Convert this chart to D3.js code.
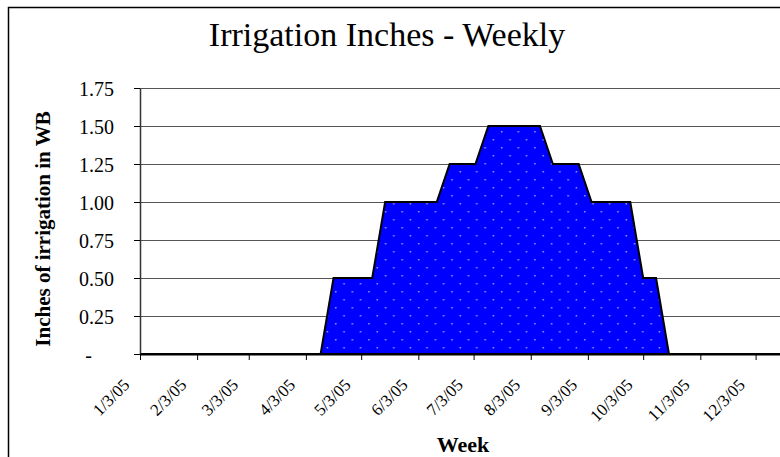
<!DOCTYPE html>
<html>
<head>
<meta charset="utf-8">
<script src="https://cdn.jsdelivr.net/npm/d3@7"></script>
<style>
  body { margin: 0; background: #fff; }
  svg { display: block; font-family: "Liberation Serif", "Times New Roman", serif; }
</style>
</head>
<body>
<div id="chart"></div>
<script>
// weekly dates (Monday of each week)
var weeks = ["1/3/05","1/10/05","1/17/05","1/24/05","1/31/05",
    "2/7/05","2/14/05","2/21/05","2/28/05",
    "3/7/05","3/14/05","3/21/05","3/28/05",
    "4/4/05","4/11/05","4/18/05","4/25/05",
    "5/2/05","5/9/05","5/16/05","5/23/05","5/30/05",
    "6/6/05","6/13/05","6/20/05","6/27/05",
    "7/4/05","7/11/05","7/18/05","7/25/05",
    "8/1/05","8/8/05","8/15/05","8/22/05","8/29/05",
    "9/5/05","9/12/05","9/19/05","9/26/05",
    "10/3/05","10/10/05","10/17/05","10/24/05","10/31/05",
    "11/7/05","11/14/05","11/21/05","11/28/05",
    "12/5/05","12/12/05","12/19/05","12/26/05"];

// inches of irrigation per week
var inches = [0,0,0,0,0,
    0,0,0,0,
    0,0,0,0,
    0,0,0.5,0.5,
    0.5,0.5,1.0,1.0,1.0,
    1.0,1.0,1.25,1.25,
    1.25,1.5,1.5,1.5,
    1.5,1.5,1.25,1.25,1.25,
    1.0,1.0,1.0,1.0,
    0.5,0.5,0,0,0,
    0,0,0,0,
    0,0,0,0];

var monthTicks = ["1/3/05","2/3/05","3/3/05","4/3/05","5/3/05","6/3/05",
    "7/3/05","8/3/05","9/3/05","10/3/05","11/3/05","12/3/05"];
var yTicks = [0, 0.25, 0.5, 0.75, 1.0, 1.25, 1.5, 1.75];

function drawChart(){
    var parse = d3.utcParse("%m/%d/%y");
    var data = weeks.map(function(w, i){ return {date: parse(w), value: inches[i]}; });

    var width = 780, height = 457;
    var plotLeft = 140, plotRight = 798, plotTop = 88, plotBottom = 354;

    var svg = d3.select("#chart").append("svg")
        .attr("width", width)
        .attr("height", height);

    var defs = svg.append("defs");
    var pat = defs.append("pattern")
        .attr("id", "dots")
        .attr("patternUnits", "userSpaceOnUse")
        .attr("width", 16.6)
        .attr("height", 16);
    pat.append("rect").attr("width", 16.6).attr("height", 16).attr("fill", "#0000ff");
    pat.append("rect").attr("x", 3).attr("y", 3).attr("width", 1.5).attr("height", 1.5).attr("fill", "#9a9aff");
    pat.append("rect").attr("x", 11.3).attr("y", 11).attr("width", 1.5).attr("height", 1.5).attr("fill", "#9a9aff");

    // chart border
    svg.append("rect")
        .attr("x", 8.5).attr("y", 7.5)
        .attr("width", 900).attr("height", 600)
        .attr("fill", "none")
        .attr("stroke", "#000")
        .attr("stroke-width", 1.5);

    var xScale = d3.scaleUtc()
        .domain([parse(weeks[0]), parse(weeks[weeks.length - 1])])
        .range([plotLeft, plotRight]);
    var yScale = d3.scaleLinear()
        .domain([0, 1.75])
        .range([plotBottom, plotTop]);

    // gridlines
    svg.append("g").selectAll("line")
        .data(yTicks.filter(function(d){ return d > 0; }))
        .enter().append("line")
        .attr("x1", plotLeft).attr("x2", width)
        .attr("y1", function(d){ return Math.round(yScale(d)) + 0.5; })
        .attr("y2", function(d){ return Math.round(yScale(d)) + 0.5; })
        .attr("stroke", "#555")
        .attr("stroke-width", 1);

    // area
    var area = d3.area()
        .x(function(d){ return xScale(d.date); })
        .y0(yScale(0))
        .y1(function(d){ return yScale(d.value); });

    svg.append("path")
        .datum(data)
        .attr("d", area)
        .attr("fill", "url(#dots)")
        .attr("stroke", "#000")
        .attr("stroke-width", 2)
        .attr("stroke-linejoin", "miter");

    // y axis
    var yAxis = d3.axisLeft(yScale)
        .tickValues(yTicks)
        .tickSize(6)
        .tickSizeOuter(0)
        .tickFormat(function(d){ return d === 0 ? "-" : d3.format(".2f")(d); });

    var gy = svg.append("g")
        .attr("transform", "translate(" + plotLeft + ",0)")
        .call(yAxis);
    gy.select(".domain").attr("stroke", "#333").attr("stroke-width", 1.5);
    gy.selectAll(".tick line").attr("stroke", "#000");
    gy.selectAll(".tick text")
        .attr("x", -26)
        .attr("dy", "0.35em")
        .style("font-size", "20px")
        .style("font-family", "Liberation Serif")
        .attr("fill", "#000")
        .attr("dx", function(d){ return d === 0 ? -22 : 0; });

    // x axis
    var xAxis = d3.axisBottom(xScale)
        .tickValues(monthTicks.map(parse))
        .tickSize(6)
        .tickSizeOuter(0)
        .tickFormat(function(d, i){ return monthTicks[i]; });

    var gx = svg.append("g")
        .attr("transform", "translate(0," + plotBottom + ")")
        .call(xAxis);
    gx.select(".domain").attr("stroke", "#000").attr("stroke-width", 2);
    gx.selectAll(".tick line").attr("stroke", "#000");
    gx.selectAll(".tick text")
        .attr("y", 0)
        .attr("dy", 0)
        .style("text-anchor", "end")
        .style("font-size", "17px")
        .style("font-family", "Liberation Serif")
        .attr("fill", "#000")
        .attr("transform", "translate(-10,32) rotate(-45)");

    // titles
    svg.append("text")
        .attr("x", 387).attr("y", 46)
        .attr("text-anchor", "middle")
        .style("font-size", "34px")
        .text("Irrigation Inches - Weekly");

    svg.append("text")
        .attr("transform", "translate(50,229) rotate(-90)")
        .attr("text-anchor", "middle")
        .style("font-size", "21px")
        .style("font-weight", "bold")
        .text("Inches of irrigation in WB");

    svg.append("text")
        .attr("x", 463).attr("y", 452)
        .attr("text-anchor", "middle")
        .style("font-size", "22px")
        .style("font-weight", "bold")
        .text("Week");
}

drawChart();
</script>
</body>
</html>
